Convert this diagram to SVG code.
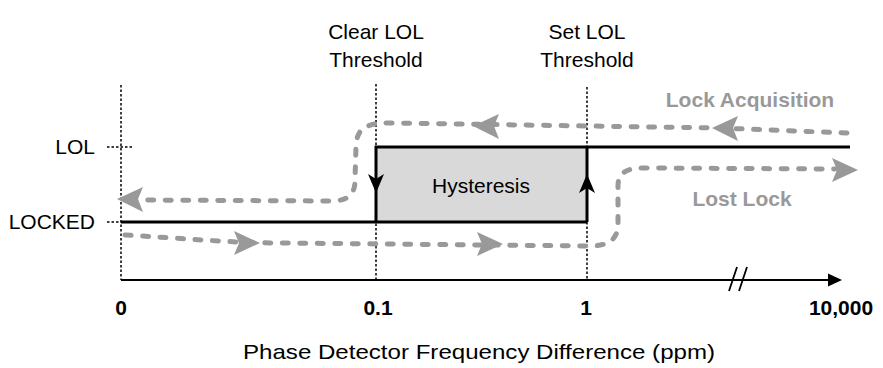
<svg xmlns="http://www.w3.org/2000/svg" width="883" height="368" viewBox="0 0 883 368">
<style>
text{font-family:"Liberation Sans",Arial,sans-serif;fill:#000}
.lbl{font-size:21px}
.b{font-weight:bold}
.g{fill:#999;font-weight:bold;font-size:21px}
.dot{stroke:#000;stroke-width:1.5;stroke-dasharray:2.5 2;fill:none}
.blk{stroke:#000;stroke-width:3;fill:none}
.gp{stroke:#999;stroke-width:5;stroke-dasharray:6 11.5;stroke-linecap:round;fill:none}
.ga{fill:#999}
</style>
<rect width="883" height="368" fill="#fff"/>

<g id="guides">
<line class="dot" x1="121" y1="85" x2="121" y2="280"/>
<line class="dot" x1="376" y1="84" x2="376" y2="280"/>
<line class="dot" x1="587" y1="87" x2="587" y2="280"/>
<line class="dot" x1="107" y1="147" x2="133" y2="147"/>
<line class="dot" x1="107" y1="222" x2="121" y2="222"/>
</g>

<g id="axis">
<line x1="121" y1="280" x2="830" y2="280" stroke="#000" stroke-width="2"/>
<polygon points="842,280 828,273.5 828,286.5" fill="#000"/>
<line x1="729" y1="291" x2="737" y2="267" stroke="#000" stroke-width="1.8"/>
<line x1="739" y1="291" x2="747" y2="267" stroke="#000" stroke-width="1.8"/>
</g>

<g id="hysteresis">
<rect x="376" y="147" width="211" height="75" fill="#d9d9d9"/>
<polyline class="blk" points="121,222 587,222"/>
<polyline class="blk" points="376,222 376,147 850,147"/>
<line class="blk" x1="587" y1="147" x2="587" y2="222"/>
<polygon points="376,193 368,174 376,179 384,174" fill="#000"/>
<polygon points="587,174 579,193 587,188 595,193" fill="#000"/>
<text class="lbl" x="481" y="193" text-anchor="middle" font-size="22">Hysteresis</text>
</g>

<g id="connectors">
<path class="gp" d="M847,133 L720,128 L390,123 C366,123 357,128 356,146 L355,180 C355,195 348,201 330,201 L140,200"/>
<polygon class="ga" points="117,199 143,187 138,199 143,212"/>
<polygon class="ga" points="473,126 499,114 494,126 499,139"/>
<polygon class="ga" points="712,128 738,116 733,128 738,141"/>

<path class="gp" d="M125,235 C180,238 230,243 280,243 L590,246 C609,246 618,239 618,224 L618,186 C618,172 627,168 645,168 L835,169"/>
<polygon class="ga" points="260,243 234,231 239,243 234,255"/>
<polygon class="ga" points="503,244 477,232 482,244 477,256"/>
<polygon class="ga" points="858,170 832,158 837,170 832,182"/>
</g>

<g id="labels">
<text class="lbl" x="376" y="39" text-anchor="middle">Clear LOL</text>
<text class="lbl" x="376" y="67" text-anchor="middle" font-size="22">Threshold</text>
<text class="lbl" x="587" y="39" text-anchor="middle">Set LOL</text>
<text class="lbl" x="587" y="67" text-anchor="middle" font-size="22">Threshold</text>
<text class="lbl" x="95" y="154" text-anchor="end" font-size="20">LOL</text>
<text class="lbl" x="95" y="229" text-anchor="end" font-size="20">LOCKED</text>
<text class="g" x="750" y="107" text-anchor="middle" font-size="21.5">Lock Acquisition</text>
<text class="g" x="742" y="206" text-anchor="middle" font-size="22">Lost Lock</text>
<text class="lbl b" x="121" y="315" text-anchor="middle" font-size="21">0</text>
<text class="lbl b" x="378" y="315" text-anchor="middle" font-size="21">0.1</text>
<text class="lbl b" x="586" y="315" text-anchor="middle" font-size="21">1</text>
<text class="lbl b" x="841" y="315" text-anchor="middle" font-size="21">10,000</text>
<text class="lbl" x="479" y="359" text-anchor="middle" font-size="22" textLength="472" lengthAdjust="spacingAndGlyphs">Phase Detector Frequency Difference (ppm)</text>
</g>
</svg>
